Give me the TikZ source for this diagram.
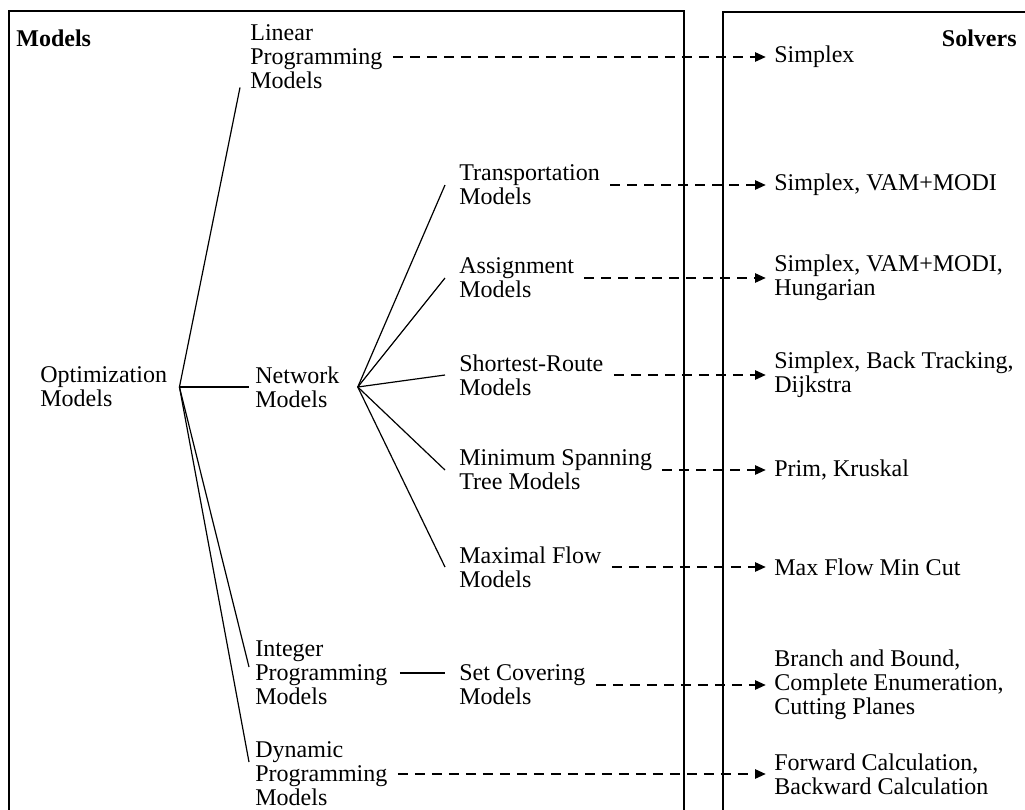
\documentclass[tikz,border=0pt]{standalone}
\usepackage{fontspec}
\setmainfont{Liberation Serif}
\usetikzlibrary{arrows.meta}
\usetikzlibrary{positioning}
\tikzset{
  model/.style={anchor=west, align=left, inner sep=1pt,
    font=\fontsize{12}{12}\selectfont},
  solver/.style={model},
  header/.style={inner sep=1pt, font=\fontsize{12}{12}\selectfont\bfseries},
  frame/.style={line width=0.6pt},
  branch/.style={line width=0.6pt},
  arrow/.style={-{Triangle[length=5.5pt,width=4.5pt]}, line width=1.3pt,
    dash pattern=on 5pt off 3.5pt, shorten <=4pt, shorten >=3pt}
}

\begin{document}
\begin{tikzpicture}[x=0.5pt, y=-0.5pt]
  \useasboundingbox (0,0) rectangle (1025,810);
  % the two panels
  \draw[frame] (9,810) |- (684,11) -- (684,810);
  \draw[frame] (723,810) |- (1025,12);
  \node[header, anchor=west] (mhead) at (14,38) {Models};
  \node[header, anchor=east] (shead) at (1019,38) {Solvers};

  % models
  \node[model] (opt) at (38,387) {Optimization\\Models};
  \node[model] (lin) at (248,57) {Linear\\Programming\\Models};
  \node[model] (net) at (253,387) {Network\\Models};
  \node[model] (int) at (253,673) {Integer\\Programming\\Models};
  \node[model] (dyn) at (253,774) {Dynamic\\Programming\\Models};
  \node[model] (trn) at (457,185) {Transportation\\Models};
  \node[model] (asg) at (457,278) {Assignment\\Models};
  \node[model] (shr) at (457,375) {Shortest-Route\\Models};
  \node[model] (mst) at (457,470) {Minimum Spanning\\Tree Models};
  \node[model] (mxf) at (457,567) {Maximal Flow\\Models};
  \node[model] (scv) at (457,685) {Set Covering\\Models};

  % solvers
  \node[solver] (s-lin) at (772,57) {Simplex};
  \node[solver] (s-trn) at (772,185) {Simplex, VAM+MODI};
  \node[solver] (s-asg) at (772,278) {Simplex, VAM+MODI,\\Hungarian};
  \node[solver] (s-shr) at (772,375) {Simplex, Back Tracking,\\Dijkstra};
  \node[solver] (s-mst) at (772,470) {Prim, Kruskal};
  \node[solver] (s-mxf) at (772,567) {Max Flow Min Cut};
  \node[solver] (s-scv) at (772,685) {Branch and Bound,\\Complete Enumeration,\\Cutting Planes};
  \node[solver] (s-dyn) at (772,774) {Forward Calculation,\\Backward Calculation};

  % tree
  \coordinate (optroot) at ([xshift=5pt]opt.east);
  \coordinate (netroot) at ([xshift=8pt]net.east);
  \draw[branch] (optroot) -- ([xshift=-4pt,yshift=2pt]lin.south west);
  \draw[branch] (optroot) -- ([xshift=-2pt]net.west);
  \draw[branch] (optroot) -- ([xshift=-2pt,yshift=3pt]int.west);
  \draw[branch] (optroot) -- ([xshift=-2pt,yshift=6pt]dyn.west);
  \foreach \m in {trn,asg,shr,mst,mxf}
    \draw[branch] (netroot) -- ([xshift=-6pt]\m.west);
  \draw[branch] ([xshift=5pt]int.east) -- ([xshift=-6pt,yshift=6pt]scv.west);

  % model -> solver
  \foreach \m in {lin,trn,asg,shr,mst,mxf,scv,dyn}
    \draw[arrow] (\m.east) -- (s-\m.west);
\end{tikzpicture}
\end{document}
